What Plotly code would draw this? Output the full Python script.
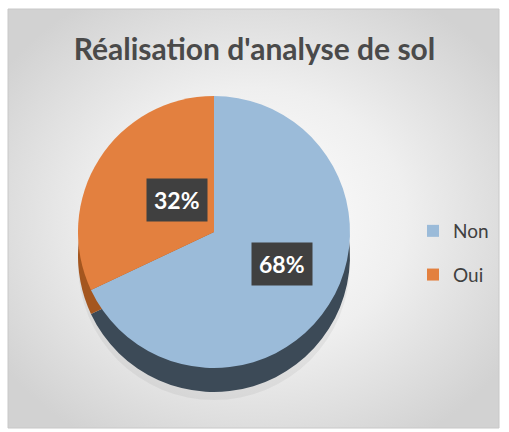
import math
import base64
import plotly.graph_objects as go

# ---- data ----
categories = ["Non", "Oui"]
values = [68, 32]
top_colors = ["#9BBBD9", "#E3803F"]
side_colors = ["#3C4A57", "#A4561F"]

W, H = 509, 432
cx, cy, R = 214, 232, 136   # pie centre and radius in pixels
depth = 24

def px_to_paper_x(x):
    return x / W

def px_to_paper_y(y):
    return (H - y) / H

top_dom = dict(x=[px_to_paper_x(cx - R), px_to_paper_x(cx + R)],
               y=[px_to_paper_y(cy + R), px_to_paper_y(cy - R)])
side_dom = dict(x=top_dom["x"],
                y=[px_to_paper_y(cy + R + depth), px_to_paper_y(cy - R + depth)])

fig = go.Figure()
# side / depth of the 3D pie
fig.add_trace(go.Pie(labels=categories, values=values, sort=False, direction="clockwise",
                     rotation=0, domain=side_dom, textinfo="none", hoverinfo="skip",
                     marker=dict(colors=side_colors, line=dict(width=0)), showlegend=False))
# top face
fig.add_trace(go.Pie(labels=categories, values=values, sort=False, direction="clockwise",
                     rotation=0, domain=top_dom, textinfo="none", showlegend=False,
                     marker=dict(colors=top_colors, line=dict(width=0))))

# legend entries (one group each so the spacing can be set)
for lab, col in zip(categories, top_colors):
    fig.add_trace(go.Scatter(x=[None], y=[None], mode="markers", name=lab,
                             legendgroup=lab, hoverinfo="skip",
                             marker=dict(symbol="square", size=12, color=col)))
fig.update_xaxes(visible=False)
fig.update_yaxes(visible=False)

# data labels with dark boxes, positioned at slice mid-angles
total = sum(values)
start = 90.0
annotations = []
for lab, v in zip(categories, values):
    sweep = v / total * 360
    mid = math.radians(start - sweep / 2)
    start -= sweep
    x = cx + 0.59 * R * math.cos(mid)
    y = cy - 0.44 * R * math.sin(mid)
    annotations.append(dict(x=px_to_paper_x(x), y=px_to_paper_y(y), xref="paper", yref="paper",
                            text=f"<b>{round(v / total * 100)}%</b>", showarrow=False,
                            font=dict(family="Lato, DejaVu Sans", size=23, color="white"),
                            bgcolor="#404040", borderpad=7))

svg = f'''<svg xmlns="http://www.w3.org/2000/svg" width="{W}" height="{H}">
<defs><radialGradient id="g" cx="50%" cy="50%" r="62%">
<stop offset="0%" stop-color="#ffffff"/><stop offset="50%" stop-color="#efefef"/>
<stop offset="100%" stop-color="#d2d2d2"/></radialGradient></defs>
<rect x="0" y="0" width="{W}" height="{H}" fill="url(#g)"/></svg>'''
src = "data:image/svg+xml;base64," + base64.b64encode(svg.encode()).decode()

px0, py0, px1, py1 = 8, 9, 499, 428
fig.update_layout(
    width=W, height=H,
    margin=dict(l=0, r=0, t=0, b=0),
    paper_bgcolor="white",
    plot_bgcolor="rgba(0,0,0,0)",
    images=[dict(source=src, xref="paper", yref="paper",
                 x=px_to_paper_x(px0), y=px_to_paper_y(py0),
                 sizex=(px1 - px0) / W, sizey=(py1 - py0) / H,
                 xanchor="left", yanchor="top", sizing="stretch", layer="below")],
    shapes=[dict(type="rect", xref="paper", yref="paper",
                 x0=px_to_paper_x(px0), x1=px_to_paper_x(px1),
                 y0=px_to_paper_y(py1), y1=px_to_paper_y(py0),
                 line=dict(color="#c8c8c8", width=1), layer="below"),
            dict(type="circle", xref="paper", yref="paper",
                 x0=px_to_paper_x(cx - R), x1=px_to_paper_x(cx + R),
                 y0=px_to_paper_y(cy + R + depth + 8), y1=px_to_paper_y(cy - R + depth + 8),
                 fillcolor="rgba(0,0,0,0.05)", line=dict(width=0), layer="below")],
    title=dict(text="<b>Réalisation d'analyse de sol</b>", x=0.5, xanchor="center",
               y=px_to_paper_y(49), yanchor="middle",
               font=dict(family="Lato, DejaVu Sans", size=30, color="#4a4a4a")),
    legend=dict(x=px_to_paper_x(413), y=px_to_paper_y(253), xanchor="left", yanchor="middle",
                font=dict(family="Lato, DejaVu Sans", size=19, color="#404040"),
                bgcolor="rgba(0,0,0,0)", tracegroupgap=16, itemsizing="constant"),
    annotations=annotations,
)

fig.write_html("out.html", config={"displayModeBar": False},
               post_script="document.body.style.margin='0';")
